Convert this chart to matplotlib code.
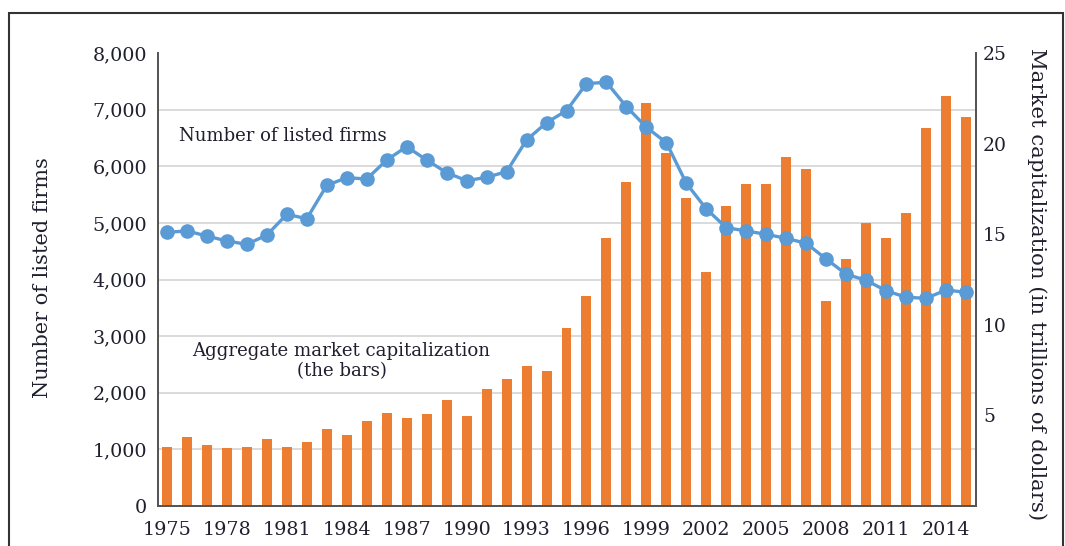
import numpy as np
import matplotlib
matplotlib.use('Agg')
import matplotlib.pyplot as plt
from matplotlib.patches import Rectangle
from matplotlib.ticker import FuncFormatter

years = np.arange(1975, 2016)

# number of listed firms (left axis)
listed_firms = [4834, 4857, 4768, 4680, 4621, 4786, 5151, 5074, 5663, 5798,
                5775, 6110, 6346, 6110, 5887, 5745, 5805, 5904, 6464, 6770,
                6982, 7460, 7482, 7052, 6688, 6416, 5699, 5245, 4916, 4857,
                4798, 4727, 4639, 4362, 4094, 3985, 3802, 3686, 3668, 3814,
                3774]

# aggregate market capitalization, trillions of dollars (right axis)
market_cap = [3.27, 3.83, 3.38, 3.20, 3.27, 3.71, 3.27, 3.55, 4.25, 3.90,
              4.69, 5.13, 4.87, 5.06, 5.85, 4.97, 6.47, 7.01, 7.71, 7.45,
              9.82, 11.60, 14.77, 17.88, 22.22, 19.46, 16.98, 12.93, 16.56, 17.79,
              17.79, 19.28, 18.58, 11.33, 13.61, 15.64, 14.77, 16.19, 20.88, 22.65,
              21.49]

year_ticks = np.arange(1975, 2016, 3)
firm_ticks = np.arange(0, 8001, 1000)
cap_ticks = [5, 10, 15, 20, 25]

orange = '#ED7D31'
blue = '#5B9BD5'
txt = '#1f1f2e'
serif = 'DejaVu Serif'

plt.rcParams['font.family'] = serif

fig = plt.figure(figsize=(10.65, 5.46), dpi=100)
ax = fig.add_axes([158/1065, 40/546, 818/1065, 453/546])
ax2 = ax.twinx()

# bars on the right-hand scale, drawn underneath
ax2.bar(years, market_cap, width=0.5, color=orange, zorder=2)
ax2.set_ylim(0, 25)
ax2.set_yticks(cap_ticks)
ax2.set_yticks(np.linspace(0, 25, 9), minor=True)
ax2.grid(which='minor', axis='y', color='#d4d4d4', lw=1.2, zorder=0)
ax2.set_axisbelow(True)
ax2.tick_params(axis='y', which='both', length=0, pad=5, labelsize=13.5,
                labelcolor=txt)
ax2.set_ylabel('Market capitalization (in trillions of dollars)', rotation=270,
               fontsize=15.3, color=txt)
ax2.yaxis.set_label_coords(1.087, 0.49)

# line on the left-hand scale, on top
ax.set_zorder(ax2.get_zorder() + 1)
ax.patch.set_visible(False)
ax.plot(years, listed_firms, color=blue, lw=2.4, marker='o', ms=9.5,
        zorder=3, clip_on=False)
ax.set_ylim(0, 8000)
ax.set_yticks(firm_ticks)
ax.yaxis.set_major_formatter(FuncFormatter(lambda v, p: f'{int(v):,}'))
ax.set_xlim(1974.55, 2015.5)
ax.set_xticks(year_ticks)
ax.tick_params(axis='y', length=0, pad=8, labelsize=13.8, labelcolor=txt)
ax.tick_params(axis='x', length=0, pad=11, labelsize=13.8, labelcolor=txt)
ax.set_ylabel('Number of listed firms', fontsize=15, color=txt)
ax.yaxis.set_label_coords(-0.13, 0.505)

for a in (ax, ax2):
    a.spines['top'].set_visible(False)
    for s in ('left', 'right', 'bottom'):
        a.spines[s].set_color('#555555')
        a.spines[s].set_linewidth(1.3)

ax.text(1975.6, 6530, 'Number of listed firms', fontsize=13, color=txt,
        va='center', ha='left')
ax.text(1983.74, 2555, 'Aggregate market capitalization\n(the bars)',
        fontsize=13.1, color=txt, va='center', ha='center', linespacing=1.12)

fig.patches.append(Rectangle((9/1065, -0.1), 1054/1065, 533/546 + 0.1,
                             transform=fig.transFigure, fill=False,
                             edgecolor='#333333', lw=1.5))

fig.savefig('out.png', dpi=100)
